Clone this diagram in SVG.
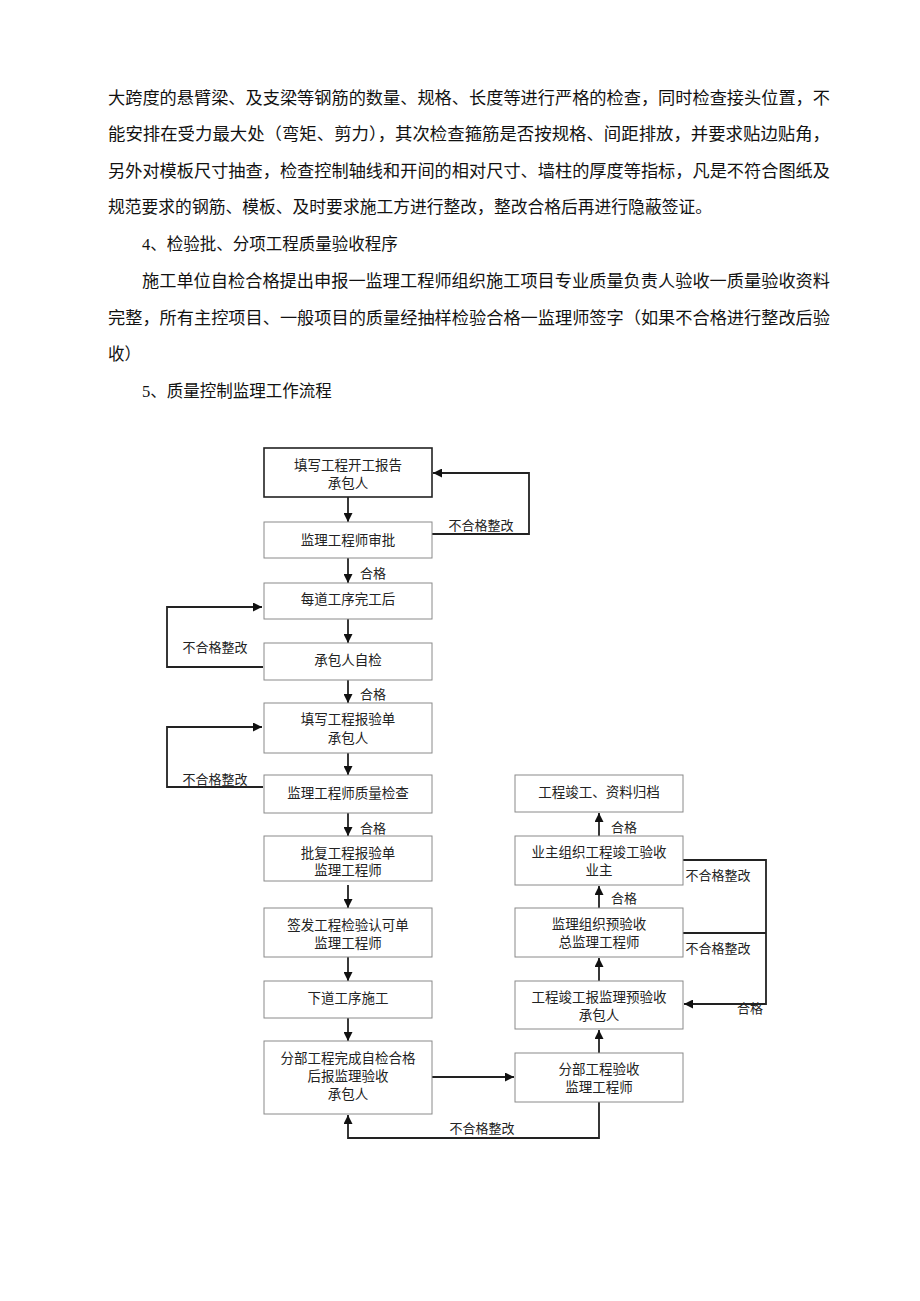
<svg xmlns="http://www.w3.org/2000/svg" width="920" height="1301" viewBox="0 0 920 1301">
<defs>
<marker id="ah" viewBox="0 0 10 10" refX="10" refY="5" markerWidth="9" markerHeight="9" markerUnits="userSpaceOnUse" orient="auto">
<path d="M0,0 L10,5 L0,10 z" fill="#111"/>
</marker>
<style>
.p{font-family:"Liberation Serif","Noto Sans CJK SC",serif;font-size:16.5px;fill:#111}
.bx{fill:#fff;stroke:#8a8a8a;stroke-width:1}
.bx1{fill:#fff;stroke:#222;stroke-width:1.6}
.t{font-family:"Liberation Serif","Noto Sans CJK SC",serif;font-size:13.5px;fill:#222;text-anchor:middle;dominant-baseline:central}
.l{font-family:"Liberation Serif","Noto Sans CJK SC",serif;font-size:13px;fill:#222;text-anchor:middle;dominant-baseline:central}
.c{fill:none;stroke:#222;stroke-width:1.8}
.ca{fill:none;stroke:#222;stroke-width:1.8;marker-end:url(#ah)}
</style>
</defs>
<rect width="920" height="1301" fill="#fff"/>
<g id="text">
<text class="p" x="108" y="104" textLength="722" lengthAdjust="spacingAndGlyphs">大跨度的悬臂梁、及支梁等钢筋的数量、规格、长度等进行严格的检查，同时检查接头位置，不</text>
<text class="p" x="108" y="140" textLength="722" lengthAdjust="spacingAndGlyphs">能安排在受力最大处（弯矩、剪力），其次检查箍筋是否按规格、间距排放，并要求贴边贴角，</text>
<text class="p" x="108" y="177" textLength="722" lengthAdjust="spacingAndGlyphs">另外对模板尺寸抽查，检查控制轴线和开间的相对尺寸、墙柱的厚度等指标，凡是不符合图纸及</text>
<text class="p" x="108" y="213" textLength="604" lengthAdjust="spacingAndGlyphs">规范要求的钢筋、模板、及时要求施工方进行整改，整改合格后再进行隐蔽签证。</text>
<text class="p" x="142" y="250">4、检验批、分项工程质量验收程序</text>
<text class="p" x="142" y="287" textLength="688" lengthAdjust="spacingAndGlyphs">施工单位自检合格提出申报一监理工程师组织施工项目专业质量负责人验收一质量验收资料</text>
<text class="p" x="108" y="324" textLength="722" lengthAdjust="spacingAndGlyphs">完整，所有主控项目、一般项目的质量经抽样检验合格一监理师签字（如果不合格进行整改后验</text>
<text class="p" x="108" y="360">收）</text>
<text class="p" x="142" y="397">5、质量控制监理工作流程</text>
</g>
<g id="connectors">
<line class="ca" x1="348" y1="497" x2="348" y2="522"/>
<line class="ca" x1="348" y1="558" x2="348" y2="583"/>
<line class="ca" x1="348" y1="619" x2="348" y2="643"/>
<line class="ca" x1="348" y1="680" x2="348" y2="703"/>
<line class="ca" x1="348" y1="753" x2="348" y2="775"/>
<line class="ca" x1="348" y1="813" x2="348" y2="836"/>
<line class="ca" x1="348" y1="885" x2="348" y2="908"/>
<line class="ca" x1="348" y1="957" x2="348" y2="981"/>
<line class="ca" x1="348" y1="1018" x2="348" y2="1041"/>
<polyline class="ca" points="432,534 529,534 529,473 433,473"/>
<polyline class="ca" points="263,667 167,667 167,607 262,607"/>
<polyline class="ca" points="263,787 167,787 167,727 262,727"/>
<line class="ca" x1="432" y1="1077" x2="514" y2="1077"/>
<polyline class="ca" points="599,1102 599,1138 348,1138 348,1115"/>
<line class="ca" x1="599" y1="1053" x2="599" y2="1030"/>
<line class="ca" x1="599" y1="981" x2="599" y2="958"/>
<line class="ca" x1="599" y1="908" x2="599" y2="886"/>
<line class="ca" x1="599" y1="836" x2="599" y2="813"/>
<polyline class="ca" points="683,860 766,860 766,1004 684,1004"/>
<line class="c" x1="683" y1="933" x2="766" y2="933"/>
</g>
<g id="labels">
<text class="l" x="481" y="525">不合格整改</text>
<text class="l" x="373" y="573">合格</text>
<text class="l" x="215" y="647">不合格整改</text>
<text class="l" x="373" y="694">合格</text>
<text class="l" x="215" y="779">不合格整改</text>
<text class="l" x="373" y="828">合格</text>
<text class="l" x="482" y="1128">不合格整改</text>
<text class="l" x="624" y="827">合格</text>
<text class="l" x="624" y="898">合格</text>
<text class="l" x="718" y="875">不合格整改</text>
<text class="l" x="718" y="948">不合格整改</text>
<text class="l" x="750" y="1008">合格</text>
</g>
<g id="n1"><rect class="bx1" x="264" y="448" width="168" height="49"/><text class="t" x="348" y="465">填写工程开工报告</text><text class="t" x="348" y="483">承包人</text></g>
<g id="n2"><rect class="bx" x="264" y="522" width="168" height="36"/><text class="t" x="348" y="540">监理工程师审批</text></g>
<g id="n3"><rect class="bx" x="264" y="583" width="168" height="36"/><text class="t" x="348" y="599">每道工序完工后</text></g>
<g id="n4"><rect class="bx" x="264" y="643" width="168" height="37"/><text class="t" x="348" y="660">承包人自检</text></g>
<g id="n5"><rect class="bx" x="264" y="703" width="168" height="50"/><text class="t" x="348" y="719">填写工程报验单</text><text class="t" x="348" y="738">承包人</text></g>
<g id="n6"><rect class="bx" x="264" y="775" width="168" height="38"/><text class="t" x="348" y="793">监理工程师质量检查</text></g>
<g id="n7"><rect class="bx" x="264" y="836" width="168" height="45"/><text class="t" x="348" y="853">批复工程报验单</text><text class="t" x="348" y="870">监理工程师</text></g>
<g id="n8"><rect class="bx" x="264" y="908" width="168" height="49"/><text class="t" x="348" y="925">签发工程检验认可单</text><text class="t" x="348" y="943">监理工程师</text></g>
<g id="n9"><rect class="bx" x="264" y="981" width="168" height="37"/><text class="t" x="348" y="998">下道工序施工</text></g>
<g id="n10"><rect class="bx" x="264" y="1041" width="168" height="73"/><text class="t" x="348" y="1058">分部工程完成自检合格</text><text class="t" x="348" y="1076">后报监理验收</text><text class="t" x="348" y="1094">承包人</text></g>
<g id="r1"><rect class="bx" x="515" y="775" width="168" height="37"/><text class="t" x="599" y="792">工程竣工、资料归档</text></g>
<g id="r2"><rect class="bx" x="515" y="836" width="168" height="49"/><text class="t" x="599" y="852">业主组织工程竣工验收</text><text class="t" x="599" y="870">业主</text></g>
<g id="r3"><rect class="bx" x="515" y="908" width="168" height="49"/><text class="t" x="599" y="924">监理组织预验收</text><text class="t" x="599" y="942">总监理工程师</text></g>
<g id="r4"><rect class="bx" x="515" y="981" width="168" height="48"/><text class="t" x="599" y="997">工程竣工报监理预验收</text><text class="t" x="599" y="1015">承包人</text></g>
<g id="r5"><rect class="bx" x="515" y="1053" width="168" height="49"/><text class="t" x="599" y="1069">分部工程验收</text><text class="t" x="599" y="1087">监理工程师</text></g>
</svg>
